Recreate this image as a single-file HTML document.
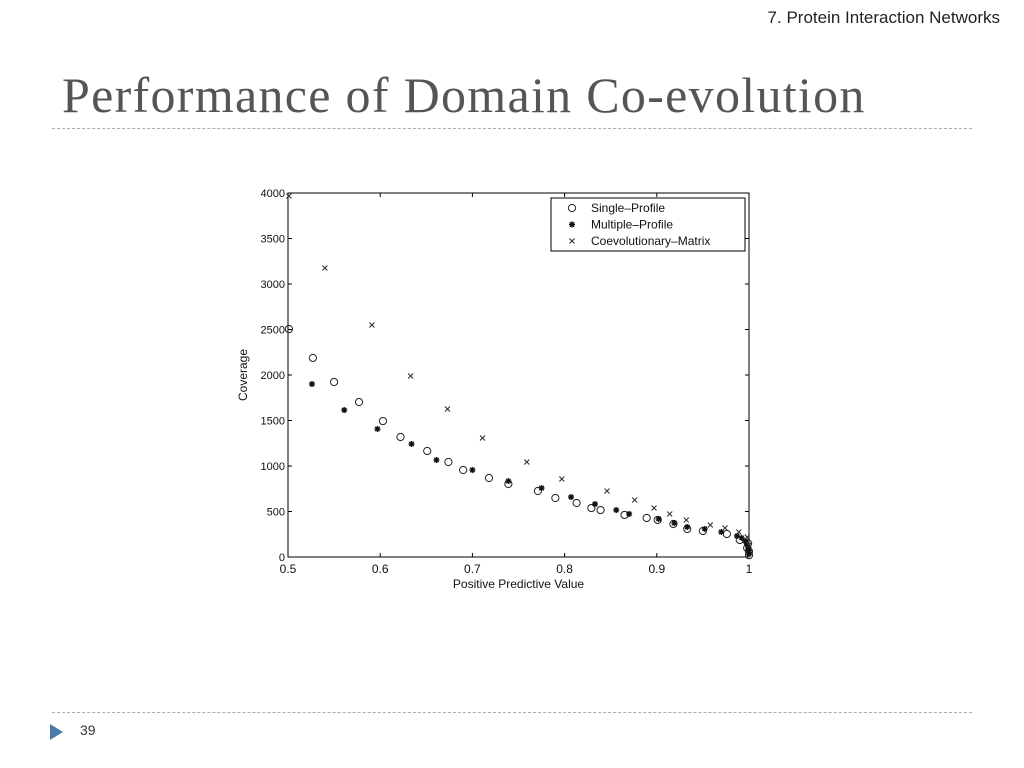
<!DOCTYPE html>
<html><head><meta charset="utf-8"><style>
body{margin:0;width:1024px;height:768px;background:#fff;position:relative;overflow:hidden;font-family:"Liberation Sans",sans-serif}
.hdr{position:absolute;right:24px;top:8px;font-size:17px;color:#222}
.title{position:absolute;left:62px;top:66px;font-family:"Liberation Serif",serif;font-size:50px;letter-spacing:1.3px;color:#555;white-space:nowrap}
.dash{position:absolute;left:52px;width:920px;border-top:1px dashed #aab}
.pn{position:absolute;left:80px;top:722px;font-size:14px;color:#333}
</style></head><body>
<div class="hdr">7. Protein Interaction Networks</div>
<div class="title">Performance of Domain Co-evolution</div>
<div class="dash" style="top:128px"></div>
<div class="dash" style="top:712px"></div>
<svg style="position:absolute;left:50px;top:724px" width="14" height="16"><polygon points="0,0 13,8 0,16" fill="#4a7bab"/></svg>
<div class="pn">39</div>
<svg id="chart" style="position:absolute;left:0;top:0" width="1024" height="768"></svg>
<script>
const singleX=[0.501,0.527,0.550,0.577,0.603,0.622,0.651,0.674,0.690,0.718,0.739,0.771,0.790,0.813,0.829,0.839,0.865,0.889,0.901,0.918,0.933,0.950,0.976,0.990,0.998,1.0,0.999,1.0];
const singleY=[2505,2187,1923,1703,1494,1319,1165,1044,956,868,802,725,648,593,538,516,462,429,407,363,308,286,253,187,99,20,150,60];
const multiX=[0.526,0.561,0.597,0.634,0.661,0.700,0.739,0.775,0.807,0.833,0.856,0.870,0.902,0.919,0.933,0.952,0.970,0.987,0.996,0.999,1.0,0.992,0.998,1.0];
const multiY=[1901,1615,1407,1242,1066,956,835,758,659,582,516,473,418,374,330,308,275,231,176,99,33,210,140,70];
const coevX=[0.501,0.540,0.591,0.633,0.673,0.711,0.759,0.797,0.846,0.876,0.897,0.914,0.932,0.958,0.974,0.989,0.998,1.0];
const coevY=[3967,3176,2549,1989,1626,1308,1044,857,725,626,538,473,407,352,319,275,220,132];
const xTicks=[0.5,0.6,0.7,0.8,0.9,1];
const xTickLabels=["0.5","0.6","0.7","0.8","0.9","1"];
const yTicks=[0,500,1000,1500,2000,2500,3000,3500,4000];
const L=288,R=749,T=193,B=557;
const sx=v=>L+(v-0.5)/0.5*(R-L);
const sy=v=>B-v/4000*(B-T);
const svg=document.getElementById('chart');
const NS='http://www.w3.org/2000/svg';
function mk(tag,attrs,parent){const e=document.createElementNS(NS,tag);for(const k in attrs)e.setAttribute(k,attrs[k]);(parent||svg).appendChild(e);return e;}
const frame=mk('rect',{x:L,y:T,width:R-L,height:B-T,fill:'none',stroke:'#000','stroke-width':1});


xTicks.forEach((t,i)=>{const x=sx(t);
mk('line',{x1:x,x2:x,y1:B,y2:B-4,stroke:'#000'});mk('line',{x1:x,x2:x,y1:T,y2:T+4,stroke:'#000'});
const tx=mk('text',{x:x,y:B+16,'text-anchor':'middle','font-size':12,fill:'#111'});tx.textContent=xTickLabels[i];

});
yTicks.forEach(t=>{const y=sy(t);
mk('line',{x1:L,x2:L+4,y1:y,y2:y,stroke:'#000'});mk('line',{x1:R,x2:R-4,y1:y,y2:y,stroke:'#000'});
const tx=mk('text',{x:L-3,y:y+4,'text-anchor':'end','font-size':11,fill:'#111'});tx.textContent=t;

});
const xt=mk('text',{x:(L+R)/2,y:B+31,'text-anchor':'middle','font-size':12,fill:'#111'});xt.textContent='Positive Predictive Value';


const yt=mk('text',{x:0,y:0,'text-anchor':'middle','font-size':12,fill:'#111',transform:`translate(247,${(T+B)/2}) rotate(-90)`});yt.textContent='Coverage';


function circ(x,y){const e=mk('circle',{cx:x,cy:y,r:3.6,fill:'none',stroke:'#222','stroke-width':1});}
function star(x,y){const g=mk('g',{stroke:'#111','stroke-width':1.4});
mk('line',{x1:x-3,x2:x+3,y1:y,y2:y},g);mk('line',{x1:x,x2:x,y1:y-3,y2:y+3},g);mk('line',{x1:x-2.2,x2:x+2.2,y1:y-2.2,y2:y+2.2},g);mk('line',{x1:x-2.2,x2:x+2.2,y1:y+2.2,y2:y-2.2},g);}
function cross(x,y){const g=mk('g',{stroke:'#333','stroke-width':1.1});
mk('line',{x1:x-2.5,x2:x+2.5,y1:y-2.5,y2:y+2.5},g);mk('line',{x1:x-2.5,x2:x+2.5,y1:y+2.5,y2:y-2.5},g);}
singleX.forEach((v,i)=>circ(sx(v),sy(singleY[i])));
multiX.forEach((v,i)=>star(sx(v),sy(multiY[i])));
coevX.forEach((v,i)=>cross(sx(v),sy(coevY[i])));
const lg=mk('g',{});
mk('rect',{x:551,y:198,width:194,height:53,fill:'#fff',stroke:'#000'},lg);
const names=['Single–Profile','Multiple–Profile','Coevolutionary–Matrix'];
names.forEach((n,i)=>{const y=208+i*16.5;
if(i===0)circ(572,y);else if(i===1)star(572,y);else cross(572,y);
const t=mk('text',{x:591,y:y+4,'font-size':12,fill:'#111'},lg);t.textContent=n;

});
</script>
</body></html>
